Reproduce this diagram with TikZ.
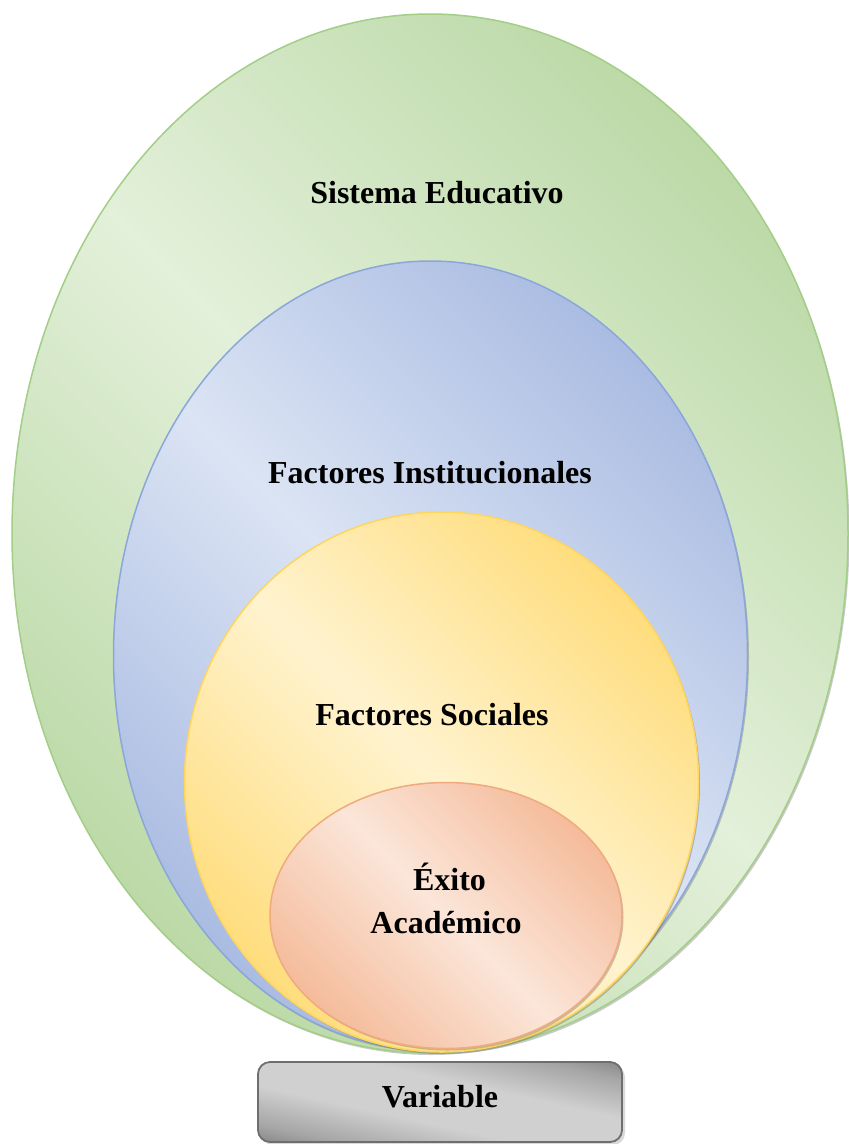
\documentclass[tikz,border=0pt]{standalone}
\usepackage{fontspec}
\setmainfont{Liberation Serif}
\usetikzlibrary{shapes.geometric,shadows}
\definecolor{gdark}{HTML}{B1D399}
\definecolor{glight}{HTML}{E3F0DA}
\definecolor{gline}{HTML}{A3CE87}
\definecolor{bdark}{HTML}{9DB1DD}
\definecolor{blight}{HTML}{DBE4F4}
\definecolor{bline}{HTML}{8AA6DA}
\definecolor{ydark}{HTML}{FFD766}
\definecolor{ylight}{HTML}{FFF3CF}
\definecolor{yline}{HTML}{FFD55C}
\definecolor{odark}{HTML}{F3B08A}
\definecolor{olight}{HTML}{FBE6D9}
\definecolor{oline}{HTML}{EFAA80}
\definecolor{kdark}{HTML}{666666}
\definecolor{kmid}{HTML}{A6A6A6}
\definecolor{klight}{HTML}{D0D0D0}
\definecolor{kline}{HTML}{6E6E6E}
\pgfdeclarehorizontalshading{grnshade}{100bp}{color(0bp)=(gdark); color(18bp)=(gdark); color(50bp)=(glight); color(82bp)=(gdark); color(100bp)=(gdark)}
\pgfdeclarehorizontalshading{blushade}{100bp}{color(0bp)=(bdark); color(18bp)=(bdark); color(50bp)=(blight); color(82bp)=(bdark); color(100bp)=(bdark)}
\pgfdeclarehorizontalshading{yelshade}{100bp}{color(0bp)=(ydark); color(18bp)=(ydark); color(50bp)=(ylight); color(82bp)=(ydark); color(100bp)=(ydark)}
\pgfdeclarehorizontalshading{orashade}{100bp}{color(0bp)=(odark); color(18bp)=(odark); color(50bp)=(olight); color(82bp)=(odark); color(100bp)=(odark)}
\pgfdeclarehorizontalshading{grashade}{100bp}{color(0bp)=(kdark); color(37bp)=(kdark); color(42bp)=(kmid); color(47bp)=(klight); color(53bp)=(klight); color(58bp)=(kmid); color(63bp)=(kdark); color(100bp)=(kdark)}
\tikzset{
  ring/.style={ellipse, inner sep=0pt, outer sep=0pt, line width=1.5pt, shade, shading angle=45,
    drop shadow={shadow xshift=1.5pt, shadow yshift=-2pt, opacity=0.3, fill=black!70}},
  lbl/.style={font=\fontsize{32}{38}\selectfont\bfseries, inner sep=0pt, anchor=base, text=black},
  varbox/.style={rectangle, rounded corners=12pt, inner sep=0pt, line width=1.8pt, draw=kline, fill=klight,
    path picture={\shade[shading=grashade, shading angle=77.6]
      ([xshift=-190pt,yshift=-190pt]path picture bounding box.center) rectangle ++(380pt,380pt);},
    drop shadow={shadow xshift=3pt, shadow yshift=-3pt, opacity=0.25, fill=black!60}}
}
\begin{document}
\begin{tikzpicture}[x=1pt,y=-1pt]
\useasboundingbox (0,0) rectangle (849,1144);
\node[ring, draw=gline, shading=grnshade, minimum width=836pt, minimum height=1039pt] (sistema) at (430,533.5) {};
\node[ring, draw=bline, shading=blushade, minimum width=634pt, minimum height=789pt] (instit) at (430.5,655.5) {};
\node[ring, draw=yline, shading=yelshade, minimum width=514pt, minimum height=540pt] (social) at (441.5,782) {};
\node[ring, draw=oline, shading=orashade, minimum width=352pt, minimum height=266pt] (exito) at (446,915.5) {};
\node[varbox, minimum width=364pt, minimum height=80pt] (var) at (440,1102) {};
\node[lbl] (tsis) at (437,203) {Sistema Educativo};
\node[lbl] (tins) at (430,483) {Factores Institucionales};
\node[lbl] (tsoc) at (432,725) {Factores Sociales};
\node[lbl] (tex1) at (449.5,890) {Éxito};
\node[lbl] (tex2) at (446,933) {Académico};
\node[lbl] (tvar) at (440,1107) {Variable};
\end{tikzpicture}
\end{document}
